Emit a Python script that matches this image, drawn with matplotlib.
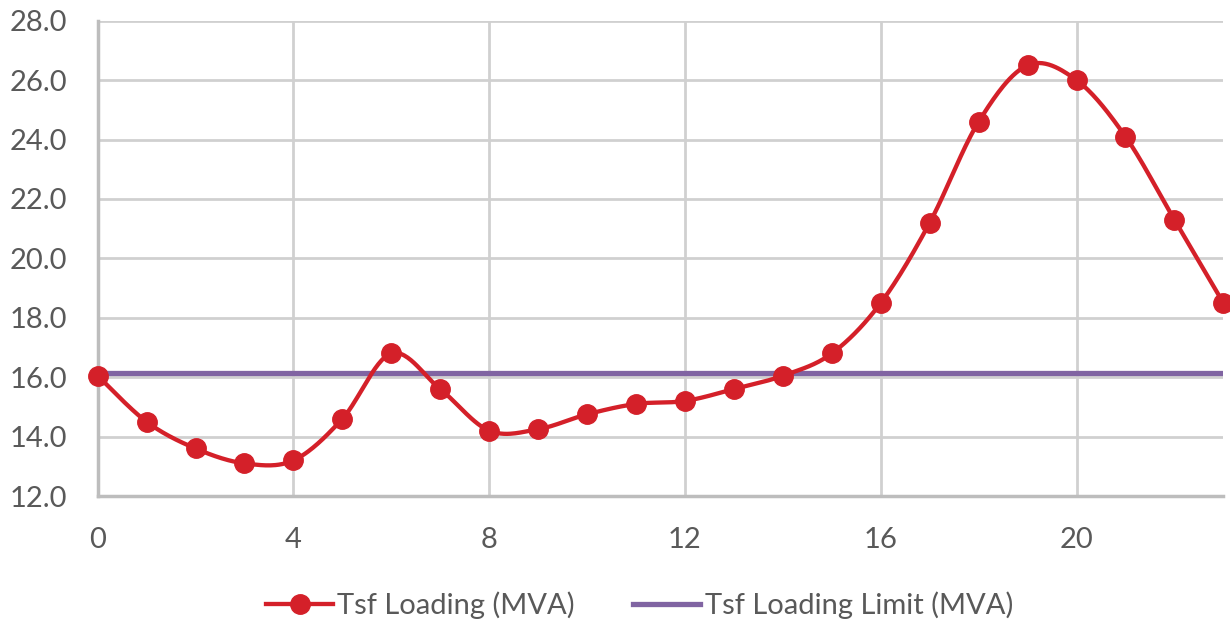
import matplotlib
import numpy as np
import matplotlib.pyplot as plt

matplotlib.use('Agg')

# chart data
hours = list(range(24))
tsf_loading = [16.05, 14.5, 13.6, 13.1, 13.2, 14.6, 16.8, 15.6, 14.2, 14.25, 14.75, 15.1,
               15.2, 15.6, 16.05, 16.8, 18.5, 21.2, 24.6, 26.5, 26.0, 24.1, 21.3, 18.5]
tsf_limit = 16.15
x_ticks = [0, 4, 8, 12, 16, 20]
y_ticks = [12, 14, 16, 18, 20, 22, 24, 26, 28]

red = '#d42029'
purple = '#8064a2'
grey_text = '#595959'


def excel_smooth(x, y, steps=30):
    # bezier segments like Excel's "smoothed line"
    x = np.asarray(x, float)
    y = np.asarray(y, float)
    n = len(x)
    xs, ys = [], []
    for i in range(n - 1):
        p0 = max(i - 1, 0)
        p3 = min(i + 2, n - 1)
        c1x = x[i] + (x[i + 1] - x[p0]) / 6
        c1y = y[i] + (y[i + 1] - y[p0]) / 6
        c2x = x[i + 1] - (x[p3] - x[i]) / 6
        c2y = y[i + 1] - (y[p3] - y[i]) / 6
        t = np.linspace(0, 1, steps, endpoint=(i == n - 2))
        a = (1 - t) ** 3
        b = 3 * (1 - t) ** 2 * t
        c = 3 * (1 - t) * t ** 2
        d = t ** 3
        xs.append(a * x[i] + b * c1x + c * c2x + d * x[i + 1])
        ys.append(a * y[i] + b * c1y + c * c2y + d * y[i + 1])
    return np.concatenate(xs), np.concatenate(ys)


plt.rcParams['font.family'] = ['Lato', 'DejaVu Sans']

fig = plt.figure(figsize=(12.3, 6.27), dpi=100)
ax = fig.add_axes([0.0794, 0.2089, 0.9152, 0.758])

sx, sy = excel_smooth(hours, tsf_loading)
ax.plot(hours, [tsf_limit] * len(hours), color=purple, lw=3.8, zorder=3, solid_capstyle='butt',
        label='Tsf Loading Limit (MVA)')
ax.plot(sx, sy, color=red, lw=3.1, zorder=4, clip_on=False)
ax.plot(hours, tsf_loading, 'o', color=red, ms=14, zorder=5, clip_on=False)

ax.set_xlim(0, 23)
ax.set_ylim(12, 28)
ax.set_xticks(x_ticks)
ax.set_yticks(y_ticks)
ax.set_yticklabels([f'{v:.1f}' for v in y_ticks])
ax.tick_params(axis='both', length=0, labelsize=21, colors=grey_text)
ax.tick_params(axis='y', pad=22)
ax.tick_params(axis='x', pad=22)

ax.grid(True, color='#d0d0d0', lw=2)
ax.set_axisbelow(True)
for side in ['top', 'right']:
    ax.spines[side].set_visible(False)
for side in ['left', 'bottom']:
    ax.spines[side].set_color('#bdbdbd')
    ax.spines[side].set_linewidth(2.5)

# legend handles
h1, = ax.plot([], [], color=red, lw=3.1, marker='o', ms=14)
h2, = ax.plot([], [], color=purple, lw=3.8)
fig.legend([h1, h2], ['Tsf Loading (MVA)', 'Tsf Loading Limit (MVA)'], loc='center',
           bbox_to_anchor=(0.52, 0.035), ncol=2, frameon=False, fontsize=21,
           handlelength=2.3, handletextpad=0.15, columnspacing=2.0, labelcolor=grey_text)

plt.savefig('out.png', dpi=100)
plt.close()
